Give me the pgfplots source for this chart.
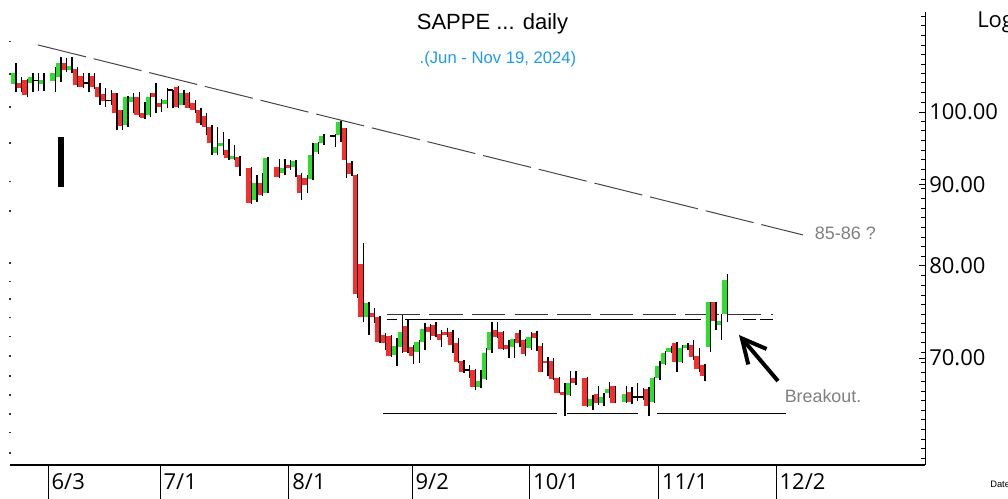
\documentclass[border=0pt]{standalone}
\usepackage{pgfplots}
\pgfplotsset{compat=1.18}
\usepackage{pgfplotstable}
\usepackage{fontspec}
\setmainfont{Liberation Sans}
\newfontfamily\uifont{Open Sans}
\usetikzlibrary{arrows.meta}
\definecolor{candlered}{RGB}{250,45,45}
\definecolor{candlegreen}{RGB}{40,225,40}
\definecolor{subblue}{RGB}{30,155,240}
\definecolor{notegray}{RGB}{128,128,128}
\definecolor{trendgray}{RGB}{70,70,70}

% i = weekday index (0 = 3 Jun 2024), open high low close
\pgfplotstableread{
i o h l c
-6 104.15 107.3 103.0 105.8
-5 104.25 105.25 103.0 103.5
-4 104.75 104.85 102.15 102.5
-3 104.25 105.8 103.0 105.25
-2 104.65 105.8 103.1 104.65
-1 104.15 105.8 103.1 104.75
1 104.65 106.7 103.0 105.8
2 105.25 108.35 104.5 107.35
3 107.35 108.15 106.0 106.3
4 106.3 108.35 105.8 106.9
5 106.45 106.8 103.75 104.0
6 105.35 105.8 103.55 103.7
7 104.25 105.8 103.0 104.25
8 105.35 105.8 103.4 103.65
9 103.65 104.3 101.0 102.25
10 102.65 103.55 100.75 101.65
11 101.65 103.25 101.0 101.65
12 102.8 102.85 97.4 99.85
13 100.3 100.35 97.4 97.95
14 98.15 102.3 97.85 102.25
15 101.5 102.8 99.85 102.25
16 102.25 103.0 99.3 99.55
17 99.9 101.5 99.05 99.1
18 99.55 102.8 99.3 102.25
19 102.8 104.3 99.85 102.25
20 101.3 101.9 100.05 100.7
21 101.15 103.55 100.6 101.75
22 103.25 103.3 100.6 103.25
23 103.75 103.85 100.6 100.7
24 101.0 103.25 100.95 102.75
25 102.75 102.9 100.5 100.6
26 101.35 101.75 99.85 100.3
27 100.3 100.6 98.15 98.4
28 99.4 99.85 96.7 97.9
29 97.9 98.15 93.95 95.6
30 94.2 97.9 93.95 95.1
31 95.2 97.2 93.95 95.65
32 94.65 96.15 93.3 93.55
33 93.4 95.35 93.3 93.8
34 93.7 93.8 91.15 92.35
36 92.2 92.35 87.5 87.6
37 88.0 91.25 87.8 90.25
38 90.25 91.5 88.55 88.65
39 88.95 93.7 88.9 93.55
41 92.35 93.35 90.85 91.05
42 91.5 93.4 91.25 92.2
43 92.6 93.3 91.95 92.2
44 92.35 93.3 91.0 93.2
45 91.25 91.5 88.0 88.95
46 90.85 91.25 88.95 89.95
47 90.75 95.65 90.6 93.95
48 94.4 95.8 94.1 95.6
49 95.6 96.85 95.35 96.55
51 96.55 96.85 95.05 96.55
52 96.7 98.65 95.8 98.6
53 97.65 97.7 90.85 93.3
54 92.9 93.2 91.15 91.4
55 91.25 91.4 76.4 76.8
56 80.2 82.7 73.75 74.3
57 74.3 75.9 72.4 75.85
58 74.75 75.25 73.65 74.3
59 74.3 74.4 71.55 71.65
60 72.4 72.6 70.8 71.55
61 72.3 72.35 70.1 70.15
62 70.3 72.05 69.15 71.25
63 71.15 74.55 70.5 72.7
64 73.35 73.95 70.5 70.65
65 71.15 71.35 69.4 70.15
66 70.65 71.85 69.5 71.65
67 71.65 73.65 70.8 73.0
68 73.25 73.55 71.85 72.7
69 73.45 73.8 72.2 72.3
70 72.5 72.9 71.15 71.85
71 72.7 73.1 72.2 72.35
72 72.7 72.9 70.5 71.35
73 71.55 72.05 69.5 69.6
74 69.7 69.8 68.5 68.6
75 68.8 69.3 68.0 68.8
76 68.8 68.85 66.8 67.15
77 67.1 68.8 67.0 67.75
78 67.9 71.0 67.8 70.5
79 70.8 73.8 70.5 72.7
80 72.9 73.8 72.05 72.2
81 72.7 72.75 70.8 70.9
82 71.35 71.85 70.0 70.9
83 71.15 72.0 70.0 71.95
84 72.6 72.9 71.15 71.55
85 71.85 71.9 70.15 70.4
86 71.05 72.7 70.8 72.2
87 72.6 72.75 70.7 72.1
88 71.25 71.55 68.55 68.6
89 69.65 70.1 68.2 69.45
90 69.7 70.0 67.8 67.9
91 68.0 68.1 66.5 66.55
92 66.65 67.55 64.35 66.35
93 66.35 68.7 66.25 67.5
94 68.0 68.7 67.3 67.5
96 68.0 68.05 65.2 65.3
97 65.3 66.35 64.9 65.95
98 66.45 67.2 65.4 65.6
99 65.6 66.55 65.3 66.15
100 66.55 67.6 66.05 66.9
101 67.2 67.25 65.55 65.6
103 65.7 67.2 65.55 66.45
104 66.65 67.1 65.45 65.7
105 66.15 67.5 65.8 66.15
106 66.15 67.0 65.85 66.15
107 66.9 67.1 64.35 65.3
108 65.7 68.1 65.55 68.0
109 68.0 69.7 67.8 69.2
110 69.4 70.75 69.3 70.5
111 70.65 71.2 70.5 71.0
112 71.55 71.6 68.6 69.6
113 69.6 71.35 69.5 71.0
114 71.0 71.55 70.8 71.35
115 71.35 71.85 69.8 70.1
116 70.15 71.0 68.6 68.9
117 69.3 69.35 67.7 68.2
118 71.1 75.95 70.65 75.9
119 75.9 75.95 72.85 73.9
120 73.45 74.6 71.85 73.9
121 74.6 79.05 73.8 78.4
}\ohlc

\begin{document}
\begin{tikzpicture}
% main axis: candles, right price scale
\begin{axis}[
  at={(7.5pt,-348.75pt)}, anchor=south west,
  scale only axis, width=686.25pt, height=339.75pt,
  xmin=-6.786, xmax=156.6, ymin=59.94, ymax=115.6,
  ymode=log,
  axis x line*=bottom, axis y line*=right,
  axis line style={black, line width=0.75pt, -},
  xtick=\empty,
  ytick={70,80,90,100},
  yticklabels={70.00,80.00,90.00,100.00},
  minor ytick={60.5,61.4,62.2,63.1,64.0,64.9,65.8,66.7,67.7,68.6,69.6,70.6,71.6,72.6,73.6,74.6,75.7,76.7,77.8,78.9,81.1,82.3,83.4,84.6,85.8,87.0,88.2,89.5,90.7,92.0,93.3,94.6,95.9,97.3,98.6,101.4,102.8,104.3,105.7,107.2,108.7,110.2,111.8,113.3,114.9},
  tick align=inside,
  major tick length=4.5pt, minor tick length=3pt,
  tick style={black, line width=0.6pt},
  yticklabel style={font=\uifont\fontsize{16.5}{17}\selectfont, anchor=west, inner sep=0pt, xshift=3pt},
]
% trend line
\addplot[trendgray, line width=0.75pt, dash pattern=on 37pt off 6pt, forget plot] coordinates {(-1.79,110.2) (134.8,83.67)};
% resistance lines
\addplot[black!80, line width=0.8pt, dash pattern=on 25pt off 7pt, forget plot] coordinates {(60.5,74.6) (129.5,74.6)};
\addplot[black, line width=0.9pt, forget plot] coordinates {(60.5,74.0) (62.3,74.0)};
\addplot[black, line width=0.9pt, forget plot] coordinates {(63.8,74.0) (116.6,74.0)};
\addplot[black, line width=0.9pt, forget plot] coordinates {(124.1,74.0) (126.4,74.0)};
\addplot[black, line width=0.9pt, forget plot] coordinates {(127.1,74.0) (129.5,74.0)};
% support line
\addplot[black, line width=1.2pt, forget plot] coordinates {(59.8,64.6) (90.9,64.6)};
\addplot[black, line width=1.2pt, forget plot] coordinates {(92.7,64.6) (105.4,64.6)};
\addplot[black, line width=1.2pt, forget plot] coordinates {(108.75,64.6) (131.8,64.6)};
% candles
\pgfplotsforeachungrouped \r in {0,...,121}{%
  \pgfplotstablegetelem{\r}{i}\of\ohlc \let\ci\pgfplotsretval
  \pgfplotstablegetelem{\r}{o}\of\ohlc \let\co\pgfplotsretval
  \pgfplotstablegetelem{\r}{h}\of\ohlc \let\ch\pgfplotsretval
  \pgfplotstablegetelem{\r}{l}\of\ohlc \let\cl\pgfplotsretval
  \pgfplotstablegetelem{\r}{c}\of\ohlc \let\cc\pgfplotsretval
  \pgfmathsetmacro\xa{\ci-0.56}%
  \pgfmathsetmacro\xb{\ci+0.36}%
  \pgfmathsetmacro\xw{\ci+0.3}%
  \pgfmathtruncatemacro\kind{\cc>\co ? 1 : (\cc<\co ? 2 : 0)}%
  \ifcase\kind
    \edef\tmp{\noexpand\addplot[black, line width=1.2pt, forget plot] coordinates {(\xa,\co) (\xb,\co)};}%
  \or
    \edef\tmp{\noexpand\addplot[draw=none, fill=candlegreen, forget plot] coordinates {(\xa,\co) (\xb,\co) (\xb,\cc) (\xa,\cc)};}%
  \or
    \edef\tmp{\noexpand\addplot[draw=none, fill=candlered, forget plot] coordinates {(\xa,\co) (\xb,\co) (\xb,\cc) (\xa,\cc)};}%
  \fi
  \tmp
  \edef\tmp{\noexpand\addplot[black, line width=1pt, forget plot] coordinates {(\xw,\cl) (\xw,\ch)};}%
  \tmp
}
\end{axis}
% overlay axis: month separators and labels
\begin{axis}[
  at={(7.5pt,-348.75pt)}, anchor=south west,
  scale only axis, width=686.25pt, height=339.75pt,
  xmin=-6.786, xmax=156.6, ymin=59.94, ymax=115.6,
  axis x line*=bottom, axis y line=none,
  axis line style={black, line width=0.75pt, -},
  xtick={0,20,43,65,86,109,130},
  xticklabels={6/3,7/1,8/1,9/2,10/1,11/1,12/2},
  tick align=outside,
  major tick length=25.5pt,
  xtick style={black, line width=0.75pt},
  xticklabel style={font=\uifont\fontsize{16.5}{17}\selectfont, anchor=west, inner sep=0pt, xshift=2.5pt, yshift=12.75pt},
]
\end{axis}
% annotations in reference pixel coordinates
\begin{scope}[x=0.75pt, y=-0.75pt]
  \node[font=\fontsize{16.5}{18}\selectfont] at (492.5,24) {SAPPE ... daily};
  \node[font=\fontsize{12.5}{14}\selectfont, text=subblue] at (498,59) {.(Jun - Nov 19, 2024)};
  \node[font=\fontsize{13.5}{15}\selectfont, text=notegray] at (845.5,233) {85-86 ?};
  \node[font=\fontsize{13.4}{15}\selectfont, text=notegray] at (823,396) {Breakout.};
  \node[font=\uifont\fontsize{16.5}{18}\selectfont, anchor=west, inner sep=0pt] at (977,22) {Log};
  \node[font=\fontsize{7}{8}\selectfont, anchor=west, inner sep=0pt] at (990,484) {Date};
  \fill[black] (58,137) rectangle (64,187);
  \draw[line width=3pt, -{Straight Barb[length=18pt, width=18pt, line width=3pt]}] (778,381) -- (739,335);
  \foreach \yy in {41.7,74,107,143,181.7,211,263,281.7,299,317.7,336.7,356,376,395,414,432.7,453}{
    \fill[black!80] (9.3,\yy-0.7) rectangle (10.7,\yy+0.7);
  }
\end{scope}
\pgfresetboundingbox
\path[use as bounding box] (0,0) rectangle (756pt,-374.25pt);
\end{tikzpicture}
\end{document}
